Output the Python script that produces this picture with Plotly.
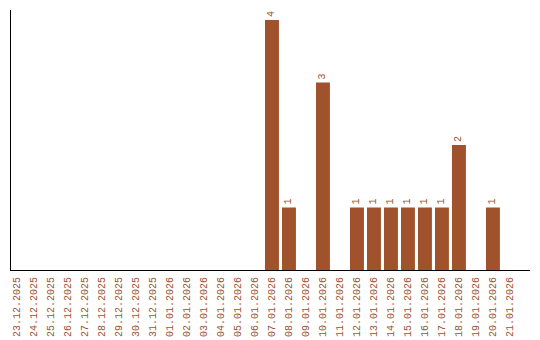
import plotly.graph_objects as go

dates = ["23.12.2025", "24.12.2025", "25.12.2025", "26.12.2025", "27.12.2025",
         "28.12.2025", "29.12.2025", "30.12.2025", "31.12.2025", "01.01.2026",
         "02.01.2026", "03.01.2026", "04.01.2026", "05.01.2026", "06.01.2026",
         "07.01.2026", "08.01.2026", "09.01.2026", "10.01.2026", "11.01.2026",
         "12.01.2026", "13.01.2026", "14.01.2026", "15.01.2026", "16.01.2026",
         "17.01.2026", "18.01.2026", "19.01.2026", "20.01.2026", "21.01.2026"]
counts = [0, 0, 0, 0, 0, 0, 0, 0, 0, 0, 0, 0, 0, 0, 0,
          4, 1, 0, 3, 0, 1, 1, 1, 1, 1, 1, 2, 0, 1, 0]

color = "#A0522D"
labels = [str(c) if c > 0 else "" for c in counts]

fig = go.Figure(go.Bar(
    x=dates, y=counts, marker_color=color, marker_line_width=0,
    text=labels, textposition="outside", textangle=-90,
    textfont=dict(family="Liberation Mono", size=10, color=color),
    cliponaxis=False,
))
fig.update_layout(
    width=540, height=340, margin=dict(l=11, r=10, t=10, b=70),
    paper_bgcolor="white", plot_bgcolor="white", bargap=0.18,
    showlegend=False,
)
fig.update_xaxes(type="category", range=[-0.353, 30.18], tickangle=-90,
                 showline=True, linecolor="black", linewidth=1.2,
                 showgrid=False, ticks="", ticklabelstandoff=2, automargin=False,
                 tickfont=dict(family="Liberation Mono", size=10, color=color))
fig.update_yaxes(range=[0, 4.16], showline=True, linecolor="black", linewidth=1.2,
                 showgrid=False, showticklabels=False, ticks="", zeroline=False,
                 automargin=False)
fig.write_html("out.html")
